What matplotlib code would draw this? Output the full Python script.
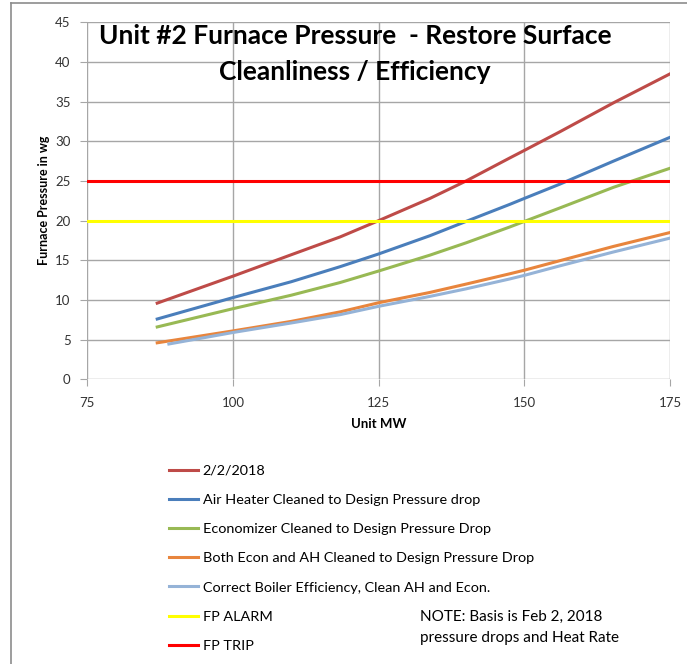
import matplotlib
matplotlib.use("Agg")
import matplotlib.pyplot as plt
from matplotlib.lines import Line2D

plt.rcParams["font.family"] = ["Lato", "DejaVu Sans"]

# Unit MW sample points
mw = [87, 100, 110, 118.4, 125, 133.8, 140, 147.5, 150, 156.1, 165.3, 175]
mw_boiler = [89, 100, 110, 118.4, 125, 133.8, 140, 147.5, 150, 156.1, 165.3, 175.3]

fp_20180202 = [9.6, 13.0, 15.7, 17.95, 20.0, 22.8, 25.0, 27.9, 28.85, 31.2, 34.85, 38.5]
fp_air_heater = [7.6, 10.3, 12.3, 14.2, 15.8, 18.1, 19.9, 22.05, 22.8, 24.6, 27.5, 30.5]
fp_economizer = [6.6, 8.9, 10.6, 12.2, 13.65, 15.65, 17.2, 19.2, 19.9, 21.6, 24.2, 26.6]
fp_both = [4.6, 6.1, 7.3, 8.5, 9.65, 10.95, 12.0, 13.3, 13.75, 14.95, 16.75, 18.5]
fp_boiler_eff = [4.45, 5.9, 7.1, 8.15, 9.2, 10.45, 11.4, 12.65, 13.1, 14.3, 16.05, 17.85]

limit_mw = [75, 175]
fp_alarm = [20, 20]
fp_trip = [25, 25]

series_labels = [
    "2/2/2018",
    "Air Heater Cleaned to Design Pressure drop",
    "Economizer Cleaned to Design Pressure Drop",
    "Both Econ and AH Cleaned to Design Pressure Drop",
    "Correct Boiler Efficiency, Clean AH and Econ.",
    "FP ALARM",
    "FP TRIP",
]

fig = plt.figure(figsize=(6.87, 6.64), dpi=100)
ax = fig.add_axes([87.3 / 687, 1 - 379.3 / 664, (670 - 87.3) / 687, (379.3 - 22.3) / 664])

lw = 2.2
ax.plot(mw, fp_20180202, color="#BE4B48", lw=lw, label=series_labels[0])
ax.plot(mw, fp_air_heater, color="#4A7EBB", lw=lw, label=series_labels[1])
ax.plot(mw, fp_economizer, color="#98B954", lw=lw, label=series_labels[2])
ax.plot(mw, fp_both, color="#E8853D", lw=lw, label=series_labels[3])
ax.plot(mw_boiler, fp_boiler_eff, color="#95B3D7", lw=lw, label=series_labels[4])
ax.plot(limit_mw, fp_alarm, color="#FFFF00", lw=lw, label=series_labels[5])
ax.plot(limit_mw, fp_trip, color="#FF0000", lw=lw, label=series_labels[6])

ax.set_xlim(75, 175)
ax.set_ylim(0, 45)
ax.set_xticks([75, 100, 125, 150, 175])
ax.set_yticks(range(0, 46, 5))
ax.grid(True, color="#A6A6A6", lw=1)
ax.set_axisbelow(True)
for side in ["top", "right", "left", "bottom"]:
    ax.spines[side].set_visible(False)
ax.tick_params(axis="both", direction="out", length=5, color="#A6A6A6",
               labelsize=9.5, labelcolor="#333333")
ax.tick_params(axis="y", pad=7)
ax.tick_params(axis="x", pad=8)

ax.set_xlabel("Unit MW", fontsize=9.5, fontweight="bold", labelpad=6)
ax.set_ylabel("Furnace Pressure in wg", fontsize=9, fontweight="bold", labelpad=4)

fig.text(355 / 687, 1 - 36 / 664, "Unit #2 Furnace Pressure  - Restore Surface",
         ha="center", va="center", fontsize=19, fontweight="bold")
fig.text(355 / 687, 1 - 72 / 664, "Cleanliness / Efficiency",
         ha="center", va="center", fontsize=19, fontweight="bold")

handles, labels = ax.get_legend_handles_labels()
fig.legend(handles, labels, loc="upper left",
           bbox_to_anchor=(163 / 687, 1 - 459 / 664),
           frameon=False, fontsize=10.4, handlelength=2.0, handletextpad=0.35,
           labelspacing=1.18, borderaxespad=0)

fig.text(420 / 687, 1 - 627 / 664, "NOTE: Basis is Feb 2, 2018\npressure drops and Heat Rate",
         ha="left", va="center", fontsize=11, linespacing=1.65)

# outer chart frame (left and top edges visible)
fig.add_artist(Line2D([11 / 687, 11 / 687], [-0.01, 1 - 3 / 664],
                      transform=fig.transFigure, color="#8C8C8C", lw=1.2))
fig.add_artist(Line2D([11 / 687, 1.01], [1 - 3 / 664, 1 - 3 / 664],
                      transform=fig.transFigure, color="#8C8C8C", lw=1.2))

fig.savefig("out.png", dpi=100)
